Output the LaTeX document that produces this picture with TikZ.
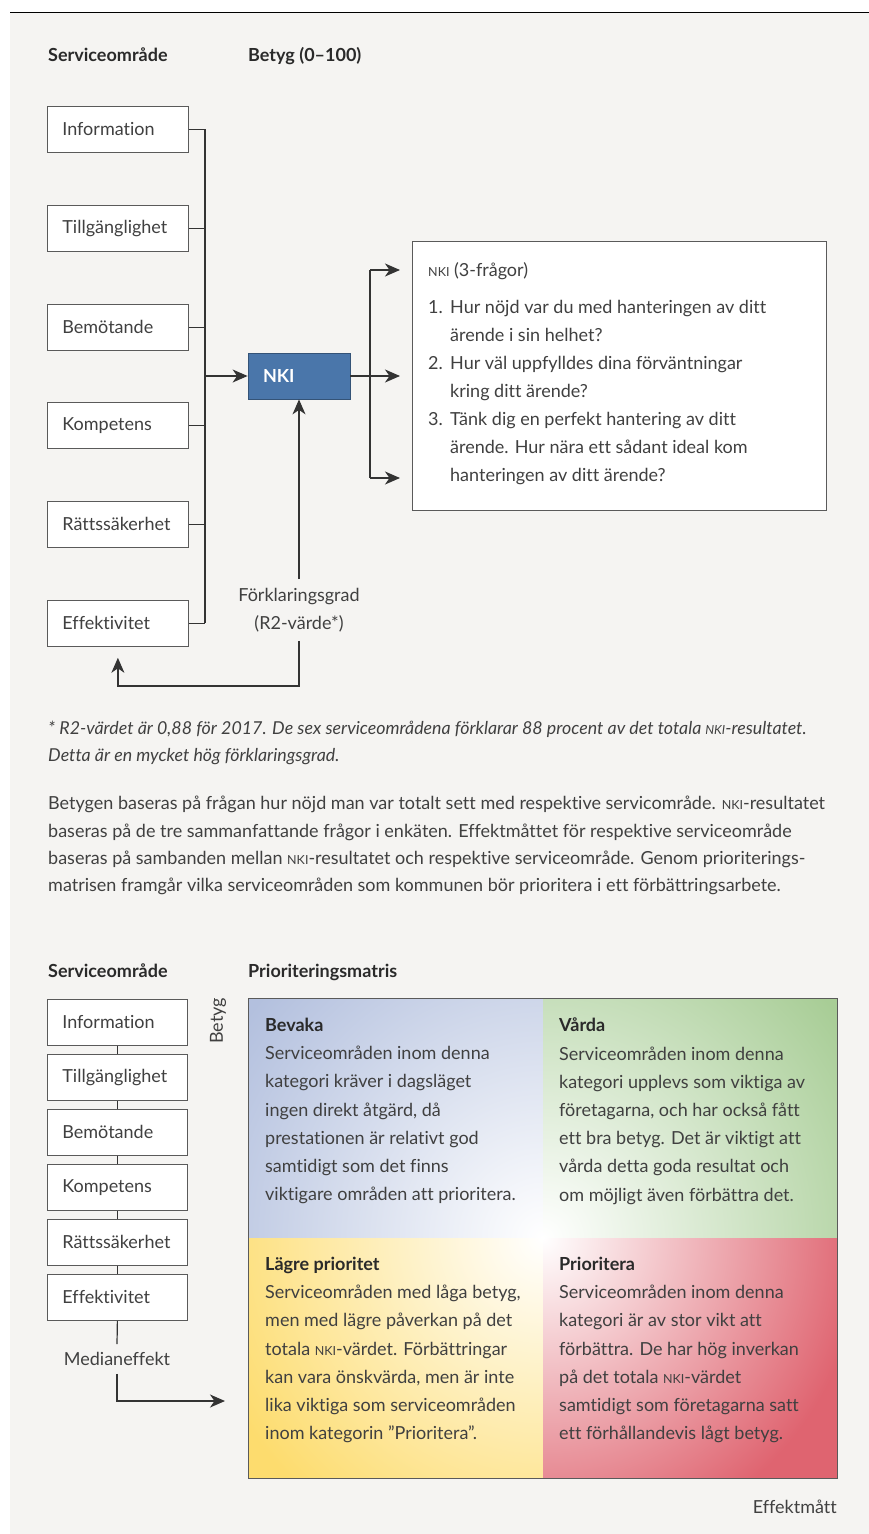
\documentclass[tikz,border=0pt]{standalone}
\usepackage{fontspec}
\setmainfont{Lato}[Ligatures=NoCommon]
\usepackage{tikz}
\usetikzlibrary{arrows.meta,calc,positioning}

\definecolor{bakgrund}{HTML}{F5F4F2}
\definecolor{brodtext}{HTML}{404040}
\definecolor{rubrik}{HTML}{2A2A2A}
\definecolor{linje}{HTML}{333333}
\definecolor{ram}{HTML}{5A5A5A}
\definecolor{nkibla}{HTML}{4A76AA}
\definecolor{bevakafarg}{HTML}{B3C0DE}
\definecolor{vardafarg}{HTML}{A8CD96}
\definecolor{lagrefarg}{HTML}{FDDC6E}
\definecolor{priofarg}{HTML}{DF6470}

\newcommand\brod{\fontsize{18}{28.2}\selectfont}
\newcommand\nki{{\fontsize{12.5}{28}\selectfont NKI}}
\newcommand\nr[1]{\makebox[22pt][l]{#1}}

\tikzset{
	omrade/.style={draw=ram, fill=white, line width=0.8pt, anchor=north west,
		text width=111pt, inner xsep=15pt, inner ysep=0pt, minimum height=46pt, align=left},
	nkiruta/.style={draw=nkibla!70!black, fill=nkibla, line width=0.8pt, text=white,
		text width=72pt, inner xsep=15pt, minimum height=46pt, align=left, font=\brod\bfseries},
	ledning/.style={draw=linje, line width=1.2pt},
	pil/.style={ledning, -{Stealth[length=15pt,width=13pt,inset=4.5pt]}},
	rubriktext/.style={anchor=base west, inner sep=0pt, text=rubrik, font=\brod\bfseries},
	stycke/.style={anchor=north west, inner sep=0pt, align=left},
}

\begin{document}
\begin{tikzpicture}[x=1pt, y=-1pt, text=brodtext, font=\brod]
	\useasboundingbox (0,0) rectangle (869,1534);
	\fill[bakgrund] (10,13) rectangle (869,1534);
	\draw[line width=1.5pt, black] (10,12.5) -- (869,12.5);

	%%%%% Betyg och NKI %%%%%
	\node[rubriktext] (rub1) at (48,61) {Serviceområde};
	\node[rubriktext] (rub2) at (248,61) {Betyg (0–100)};

	\foreach \namn/\y [count=\i] in {Information/106, Tillgänglighet/205, Bemötande/304,
			Kompetens/402, Rättssäkerhet/501, Effektivitet/600}
		\node[omrade] (a\i) at (47,\y) {\namn};

	\coordinate (buss) at (205,376);
	\foreach \i in {1,...,6}
		\draw[ledning] (a\i.east) -- (a\i.east -| buss);
	\draw[ledning] (a1.east -| buss) -- (a6.east -| buss);

	\node[nkiruta] (nki) at (299,376) {NKI};
	\draw[pil] (buss) -- (nki.west);

	\coordinate (gren) at (370,376);
	\coordinate (g1) at (370,270);
	\coordinate (g3) at (370,478);
	\coordinate (spets) at (400,376);
	\draw[ledning] (nki.east) -- (gren);
	\draw[ledning] (g1) -- (g3);
	\draw[pil] (g1) -- (g1 -| spets);
	\draw[pil] (gren) -- (spets);
	\draw[pil] (g3) -- (g3 -| spets);

	\node[draw=ram, fill=white, line width=0.8pt, anchor=north west,
		minimum width=414pt, minimum height=269pt] (fragor) at (412,241) {};
	\node[stycke, font=\fontsize{18}{28}\selectfont] (fragtext) at ([xshift=16pt,yshift=-21pt]fragor.north west)
		{\nki{} (3-frågor)\\[9pt]
		\nr{1.}Hur nöjd var du med hanteringen av ditt\\
		\nr{}ärende i sin helhet?\\
		\nr{2.}Hur väl uppfylldes dina förväntningar\\
		\nr{}kring ditt ärende?\\
		\nr{3.}Tänk dig en perfekt hantering av ditt\\
		\nr{}ärende. Hur nära ett sådant ideal kom\\
		\nr{}hanteringen av ditt ärende?};

	\node[align=center, inner ysep=9pt, font=\fontsize{18}{27.5}\selectfont] (forkl) at (299,610) {Förklaringsgrad\\(R2-värde*)};
	\coordinate (retur) at (299,686);
	\draw[pil] (forkl.north) -- (nki.south);
	\draw[pil] (forkl.south) -- (retur) -| ([yshift=-11pt]a6.south);

	%%%%% Texter %%%%%
	\node[stycke, font=\fontsize{17.8}{27.3}\selectfont\itshape] (fotnot) at (48,721)
		{* R2-värdet är 0,88 för 2017. De sex serviceområdena förklarar 88 procent av det totala \nki-resultatet.\\
		Detta är en mycket hög förklaringsgrad.};
	\node[stycke, font=\fontsize{18}{27.3}\selectfont] (brodtext) at (48,796)
		{Betygen baseras på frågan hur nöjd man var totalt sett med respektive servicområde. \nki-resultatet\\
		baseras på de tre sammanfattande frågor i enkäten. Effektmåttet för respektive serviceområde\\
		baseras på sambanden mellan \nki-resultatet och respektive serviceområde. Genom prioriterings-\\
		matrisen framgår vilka serviceområden som kommunen bör prioritera i ett förbättringsarbete.};

	%%%%% Prioriteringsmatris %%%%%
	\node[rubriktext] (rub3) at (48,977) {Serviceområde};
	\node[rubriktext] (rub4) at (248,977) {Prioriteringsmatris};

	\foreach \namn/\y [count=\i] in {Information/999, Tillgänglighet/1054, Bemötande/1109,
			Kompetens/1164, Rättssäkerhet/1219, Effektivitet/1274}
		\node[omrade, text width=110pt] (b\i) at (47,\y) {\namn};
	\foreach \i [count=\j from 2] in {1,...,5}
		\draw[ledning] (b\i.south) -- (b\j.north);

	\node[inner ysep=8pt] (median) at (117,1359) {Medianeffekt};
	\coordinate (mal) at (225,1401);
	\draw[ledning] (b6.south) -- (median.north);
	\draw[pil] (median.south) |- (mal);

	\node[rotate=90, inner sep=0pt] (betyg) at (218,1021) {Betyg};

	% kvadranter: full farg i hornen, vitt mot mitten
	\coordinate (mitt) at (543,1238);
	\foreach \hx/\hy/\farg/\r in {248/998/bevakafarg/370, 837/998/vardafarg/370,
			248/1478/lagrefarg/350, 837/1478/priofarg/320} {
		\begin{scope}
			\clip (\hx,\hy) rectangle (mitt);
			\fill[\farg] (\hx,\hy) rectangle (mitt);
			\shade[inner color=white, outer color=\farg] (mitt) circle (\r);
		\end{scope}
	}
	\draw[draw=ram, line width=1pt] (248,998) rectangle (837,1478);

	\node[stycke] (bevaka) at (265,1018)
		{\textcolor{rubrik}{\bfseries Bevaka}\\
		Serviceområden inom denna\\
		kategori kräver i dagsläget\\
		ingen direkt åtgärd, då\\
		prestationen är relativt god\\
		samtidigt som det finns\\
		viktigare områden att prioritera.};
	\node[stycke] (varda) at (559,1018)
		{\textcolor{rubrik}{\bfseries Vårda}\\
		Serviceområden inom denna\\
		kategori upplevs som viktiga av\\
		företagarna, och har också fått\\
		ett bra betyg. Det är viktigt att\\
		vårda detta goda resultat och\\
		om möjligt även förbättra det.};
	\node[stycke] (lagre) at (265,1257)
		{\textcolor{rubrik}{\bfseries Lägre prioritet}\\
		Serviceområden med låga betyg,\\
		men med lägre påverkan på det\\
		totala \nki-värdet. Förbättringar\\
		kan vara önskvärda, men är inte\\
		lika viktiga som serviceområden\\
		inom kategorin ”Prioritera”.};
	\node[stycke] (prio) at (559,1257)
		{\textcolor{rubrik}{\bfseries Prioritera}\\
		Serviceområden inom denna\\
		kategori är av stor vikt att\\
		förbättra. De har hög inverkan\\
		på det totala \nki-värdet\\
		samtidigt som företagarna satt\\
		ett förhållandevis lågt betyg.};

	\node[anchor=base east, inner sep=0pt] (effekt) at (837,1513) {Effektmått};
\end{tikzpicture}
\end{document}
